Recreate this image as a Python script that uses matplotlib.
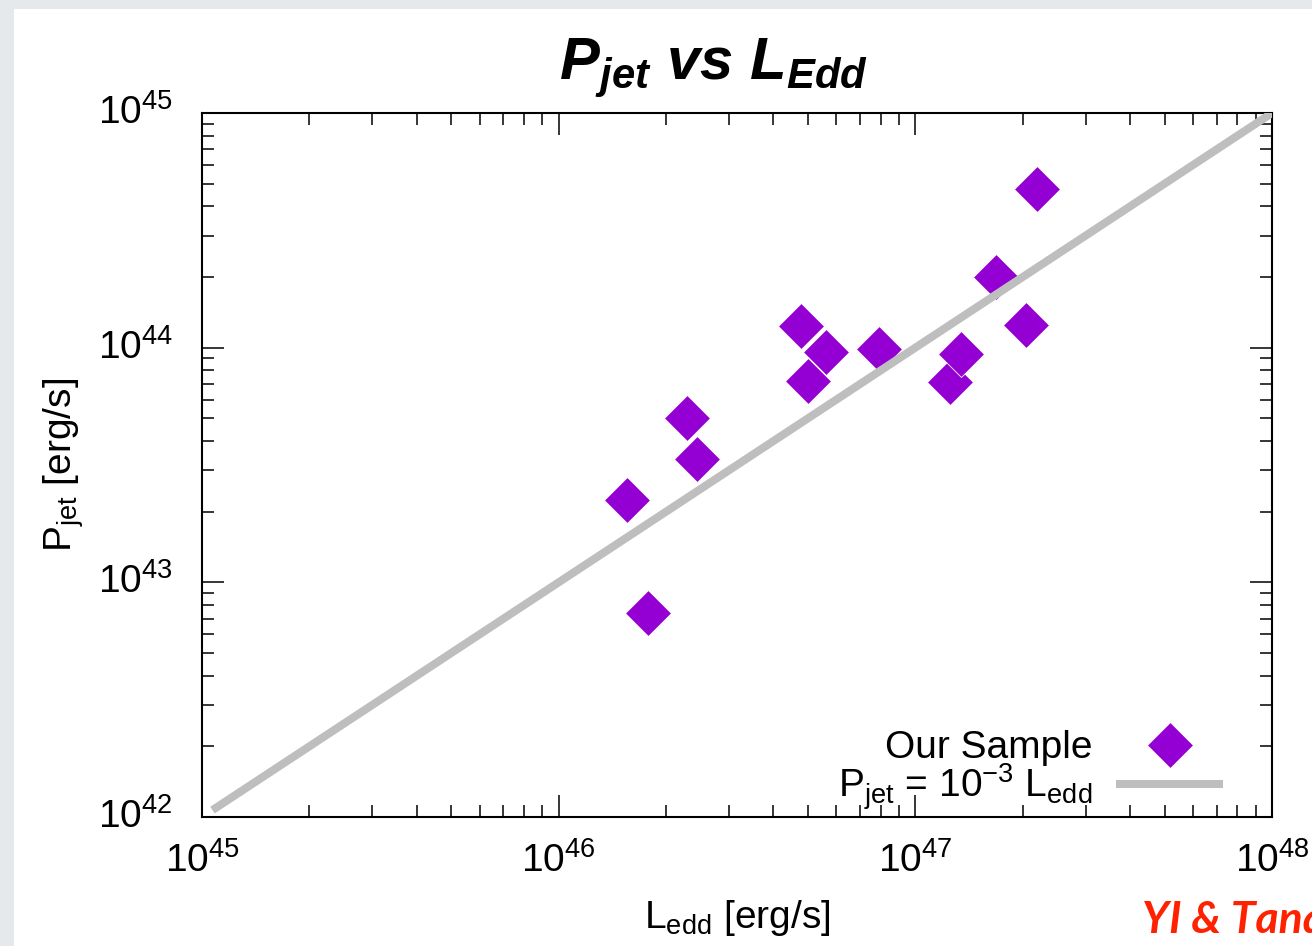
import matplotlib
matplotlib.use("Agg")
import matplotlib.pyplot as plt
from matplotlib.patches import Rectangle
from matplotlib.lines import Line2D

plt.rcParams['font.family'] = ['Liberation Sans', 'DejaVu Sans']
plt.rcParams['mathtext.fontset'] = 'custom'
plt.rcParams['mathtext.rm'] = 'Liberation Sans'
plt.rcParams['mathtext.it'] = 'Liberation Sans:italic'
plt.rcParams['mathtext.default'] = 'regular'

# 数据: L_edd 和 P_jet  (erg/s)
Ledd = [1.55e46, 1.78e46, 2.29e46, 2.44e46, 4.78e46, 5.0e46, 5.61e46,
        7.9e46, 1.25e47, 1.34e47, 1.68e47, 2.04e47, 2.19e47]
Pjet = [2.24e43, 7.4e42, 5.0e43, 3.36e43, 1.24e44, 7.2e43, 9.6e43,
        9.9e43, 7.15e43, 9.4e43, 2.0e44, 1.25e44, 4.75e44]

# 关系线 P_jet = 1e-3 L_edd
lineL = [1.07e45, 1e48]
ratio = 1e-3
lineP = [ratio * v for v in lineL]

xticks = [1e45, 1e46, 1e47, 1e48]
xticklabels = ['$10^{45}$', '$10^{46}$', '$10^{47}$', '$10^{48}$']
yticks = [1e42, 1e43, 1e44, 1e45]
yticklabels = ['$10^{42}$', '$10^{43}$', '$10^{44}$', '$10^{45}$']

W, H = 1312, 946
fig = plt.figure(figsize=(W / 100, H / 100), dpi=100)
fig.patch.set_facecolor('#e6e9ec')
# 白色幻灯片区域
fig.add_artist(Rectangle((14 / W, 0), 1, 1 - 9 / H, transform=fig.transFigure,
                         facecolor='white', edgecolor='none', zorder=0))

ax = fig.add_axes([202 / W, 1 - 817 / H, 1070 / W, 704 / H])
ax.set_facecolor('white')
ax.set_xscale('log')
ax.set_yscale('log')

purple = '#9400d3'
grey = '#bebebe'
ax.plot(Ledd, Pjet, linestyle='none', marker='D', markersize=23,
        markerfacecolor=purple, markeredgecolor='white', markeredgewidth=0.6,
        zorder=2)
ax.plot(lineL, lineP, color=grey, linewidth=5.8, solid_capstyle='butt', zorder=3)

ax.set_xlim(1e45, 1e48)
ax.set_ylim(1e42, 1e45)
ax.set_xticks(xticks)
ax.set_xticklabels(xticklabels)
ax.set_yticks(yticks)
ax.set_yticklabels(yticklabels)

for s in ax.spines.values():
    s.set_linewidth(1.5)
ax.tick_params(which='both', direction='in', top=True, right=True, width=1.1,
               labelsize=28, colors='black')
ax.tick_params(which='major', length=16)
ax.tick_params(which='minor', length=8.5)
ax.tick_params(axis='x', which='major', pad=18)
ax.tick_params(axis='y', which='major', pad=21)
plt.setp(ax.get_yticklabels(), va='center')

ax.set_xlabel('L$_{edd}$ [erg/s]', fontsize=28)
ax.set_ylabel('P$_{jet}$ [erg/s]', fontsize=28)
ax.xaxis.set_label_coords(0.5, -0.115)
ax.yaxis.set_label_coords(-0.108, 0.5)

# 图例 (文字在左, 图标在右)
handles = [
    Line2D([], [], linestyle='none', marker='D', markersize=23,
           markerfacecolor=purple, markeredgecolor='white', markeredgewidth=0.6),
    Line2D([], [], color=grey, linewidth=5.8, solid_capstyle='butt'),
]
labels = ['Our Sample', 'P$_{jet}$ = 10$^{-3}$ L$_{edd}$']
ax.legend(handles, labels, loc='lower right', bbox_to_anchor=(1 - 49 / 1070, 5 / 704),
          frameon=False, markerfirst=False, fontsize=28, handlelength=2.75,
          handletextpad=0.6, labelspacing=-0.12, borderpad=0, borderaxespad=0)

fig.text(714 / W, 1 - 80 / H, r'$P_{jet}$ vs $L_{Edd}$', ha='center', va='baseline',
         fontsize=43, fontweight='bold', style='italic')
fig.text(1142 / W, 1 - 933 / H, 'YI & Tanaka', ha='left', va='baseline',
         fontsize=32, fontweight='bold', style='italic', color='#ff2200',
         family=['Lato', 'DejaVu Sans'])

fig.savefig('out.png', dpi=100, facecolor=fig.get_facecolor())
